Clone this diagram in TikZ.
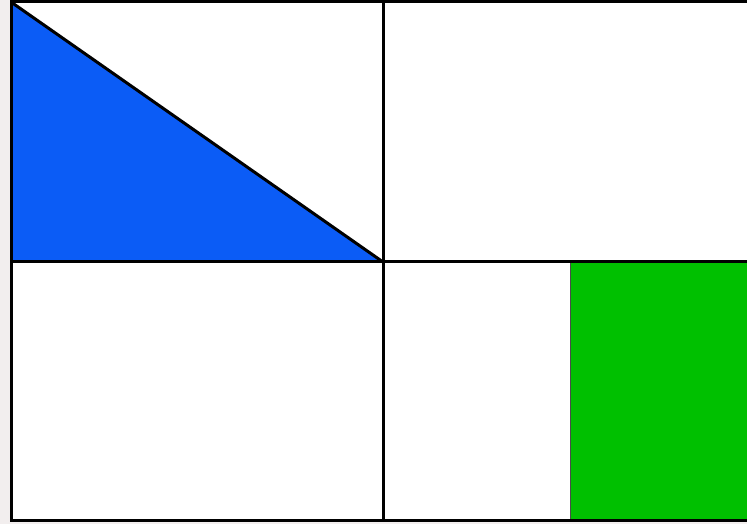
\documentclass[tikz,border=0pt]{standalone}
\definecolor{Margin}{HTML}{F2EEEE}
\definecolor{Wedge}{HTML}{0B5CF6}
\definecolor{Block}{HTML}{00C000}

\begin{document}
\begin{tikzpicture}[x=1pt,y=1pt,
 edge/.style={draw=black,line width=3pt},
 thin edge/.style={draw=black!70,line width=1pt}]
\useasboundingbox (0,0) rectangle (747,524);
\fill[Margin] (0,0) rectangle (747,524);
\fill[white] (11,3) rectangle (747,522);
% corners and divisions
\coordinate (nw) at (11,522);\coordinate (ne) at (747,522);
\coordinate (sw) at (11,3);\coordinate (se) at (747,3);
\coordinate (w) at (11,262);\coordinate (e) at (747,262);
\coordinate (n) at (383,522);\coordinate (s) at (383,3);
\coordinate (c) at (383,262);
\coordinate (gs) at (570,3);\coordinate (gn) at (570,262);
% filled parts
\fill[Wedge] (nw)--(w)--(c)--cycle;
\fill[Block] (gs) rectangle (e);
\draw[thin edge] (gs)--(gn);
% lines
\draw[edge] (ne)--(nw)--(sw)--(se);
\draw[edge] (n)--(s);\draw[edge] (w)--(e);
\draw[edge] (nw)--(c);
\end{tikzpicture}
\end{document}
